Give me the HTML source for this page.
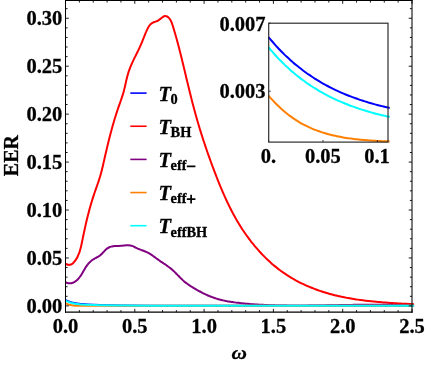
<!DOCTYPE html>
<html><head><meta charset="utf-8"><title>EER plot</title>
<style>
html,body{margin:0;padding:0;background:#fff;}
body{width:426px;height:365px;overflow:hidden;}
svg{display:block;font-family:"Liberation Serif",serif;font-weight:bold;fill:#000;}
.c{fill:none;stroke-width:2;stroke-linejoin:round;stroke-linecap:butt;}
</style></head><body>
<svg width="426" height="365" viewBox="0 0 426 365">
<rect width="426" height="365" fill="#fff"/>
<defs><clipPath id="mc"><rect x="65.50" y="0.50" width="348.6" height="311.70"/></clipPath></defs>
<g clip-path="url(#mc)">
<path class="c" stroke="#0000ff" d="M65.48 299.97 C65.55 300.00 65.75 300.11 65.88 300.18 C66.01 300.25 66.14 300.31 66.27 300.38 C66.41 300.45 66.54 300.51 66.67 300.57 C66.80 300.63 66.93 300.70 67.07 300.76 C67.20 300.82 67.33 300.87 67.46 300.93 C67.59 300.99 67.73 301.04 67.86 301.10 C67.99 301.15 68.12 301.21 68.25 301.26 C68.39 301.31 68.52 301.36 68.65 301.41 C68.78 301.46 68.92 301.51 69.05 301.56 C69.18 301.61 69.31 301.66 69.44 301.70 C69.58 301.75 69.71 301.79 69.84 301.84 C69.97 301.88 70.10 301.93 70.24 301.97 C70.37 302.01 70.50 302.05 70.63 302.09 C70.76 302.13 70.90 302.17 71.03 302.21 C71.16 302.25 71.29 302.29 71.42 302.32 C71.56 302.36 71.69 302.40 71.82 302.43 C71.95 302.47 72.09 302.50 72.22 302.54 C72.35 302.57 72.48 302.60 72.61 302.64 C72.75 302.67 72.88 302.70 73.01 302.73 C73.14 302.76 73.27 302.79 73.41 302.82 C73.54 302.85 73.67 302.88 73.80 302.91 C73.93 302.94 74.07 302.97 74.20 302.99 C74.33 303.02 74.46 303.05 74.59 303.07 C74.73 303.10 74.86 303.12 74.99 303.15 C75.12 303.17 75.26 303.20 75.39 303.22 C75.52 303.25 75.65 303.27 75.78 303.29 C75.92 303.31 76.05 303.34 76.18 303.36 C76.31 303.38 76.44 303.40 76.58 303.42 C76.71 303.44 76.84 303.46 76.97 303.48 C77.10 303.50 77.24 303.52 77.37 303.54 C77.50 303.56 77.63 303.58 77.76 303.60 C77.90 303.62 78.03 303.64 78.16 303.65 C78.29 303.67 78.43 303.69 78.56 303.70 C78.69 303.72 78.82 303.74 78.95 303.75 C79.09 303.77 79.22 303.79 79.35 303.80 C79.48 303.82 79.61 303.83 79.75 303.85 C79.88 303.86 80.01 303.88 80.14 303.89 C80.27 303.90 80.41 303.92 80.54 303.93 C80.67 303.94 79.75 303.88 80.93 303.97 C82.12 304.06 84.47 304.30 87.68 304.46 C90.88 304.62 94.61 304.78 100.15 304.94 C105.69 305.10 112.86 305.30 120.94 305.42 C129.03 305.54 134.80 305.61 148.66 305.66 C162.52 305.71 159.79 305.70 204.10 305.71 C248.41 305.72 379.43 305.71 414.50 305.71"/>
<path class="c" stroke="#ff0000" d="M65.43 263.75 C65.91 263.94 67.43 264.72 68.33 264.85 C69.23 264.99 70.07 264.82 70.85 264.55 C71.62 264.28 72.34 263.77 73.00 263.21 C73.67 262.65 74.28 261.92 74.84 261.20 C75.41 260.48 75.92 259.67 76.39 258.89 C76.87 258.10 77.30 257.29 77.69 256.47 C78.09 255.66 78.45 254.82 78.78 253.99 C79.11 253.15 79.41 252.29 79.69 251.44 C79.97 250.58 80.21 249.71 80.45 248.84 C80.69 247.97 80.90 247.09 81.11 246.21 C81.31 245.32 81.50 244.44 81.69 243.55 C81.88 242.66 82.05 241.77 82.24 240.88 C82.42 239.99 82.60 239.10 82.78 238.20 C82.96 237.31 83.15 236.42 83.33 235.54 C83.52 234.65 83.70 233.76 83.89 232.87 C84.08 231.98 84.27 231.09 84.46 230.21 C84.66 229.32 84.85 228.43 85.05 227.55 C85.24 226.66 85.44 225.78 85.64 224.89 C85.84 224.01 86.05 223.12 86.25 222.24 C86.46 221.36 86.67 220.48 86.88 219.60 C87.09 218.72 87.31 217.84 87.52 216.96 C87.74 216.08 87.96 215.20 88.19 214.32 C88.41 213.44 88.64 212.57 88.87 211.69 C89.10 210.82 89.34 209.94 89.57 209.07 C89.81 208.20 90.06 207.33 90.30 206.46 C90.55 205.58 90.80 204.72 91.05 203.85 C91.31 202.98 91.57 202.11 91.83 201.25 C92.10 200.38 92.36 199.52 92.64 198.65 C92.91 197.79 93.19 196.93 93.47 196.07 C93.75 195.21 94.04 194.35 94.33 193.49 C94.62 192.64 94.92 191.78 95.22 190.92 C95.52 190.07 95.82 189.21 96.12 188.36 C96.42 187.50 96.72 186.65 97.02 185.79 C97.32 184.94 97.61 184.08 97.91 183.22 C98.20 182.37 98.49 181.51 98.77 180.65 C99.06 179.79 99.34 178.93 99.61 178.06 C99.88 177.20 100.14 176.34 100.39 175.47 C100.65 174.60 100.89 173.73 101.13 172.85 C101.37 171.98 101.59 171.10 101.81 170.23 C102.04 169.35 102.25 168.47 102.46 167.59 C102.67 166.71 102.88 165.82 103.08 164.94 C103.28 164.06 103.48 163.17 103.68 162.29 C103.88 161.40 104.08 160.52 104.28 159.63 C104.48 158.75 104.68 157.86 104.88 156.98 C105.08 156.09 105.28 155.21 105.49 154.33 C105.69 153.44 105.90 152.56 106.10 151.68 C106.31 150.79 106.51 149.91 106.72 149.03 C106.93 148.14 107.14 147.26 107.35 146.38 C107.56 145.50 107.77 144.62 107.99 143.74 C108.20 142.85 108.42 141.97 108.64 141.09 C108.85 140.21 109.07 139.33 109.30 138.46 C109.52 137.58 109.74 136.70 109.97 135.82 C110.20 134.94 110.42 134.07 110.66 133.19 C110.89 132.32 111.12 131.44 111.36 130.57 C111.59 129.69 111.83 128.82 112.07 127.95 C112.31 127.07 112.56 126.20 112.81 125.33 C113.05 124.46 113.30 123.59 113.56 122.72 C113.81 121.85 114.07 120.98 114.33 120.11 C114.58 119.25 114.85 118.38 115.11 117.52 C115.38 116.65 115.65 115.79 115.92 114.93 C116.20 114.06 116.47 113.20 116.76 112.34 C117.04 111.48 117.32 110.62 117.61 109.76 C117.90 108.91 118.19 108.05 118.49 107.19 C118.78 106.34 119.09 105.49 119.39 104.63 C119.69 103.78 120.00 102.93 120.30 102.07 C120.60 101.22 120.90 100.36 121.20 99.51 C121.49 98.65 121.79 97.80 122.07 96.93 C122.35 96.07 122.63 95.21 122.89 94.34 C123.15 93.48 123.41 92.61 123.65 91.73 C123.89 90.86 124.11 89.98 124.33 89.09 C124.55 88.21 124.75 87.32 124.96 86.44 C125.16 85.55 125.36 84.66 125.56 83.77 C125.76 82.88 125.95 81.99 126.16 81.10 C126.36 80.22 126.56 79.33 126.77 78.45 C126.99 77.56 127.21 76.68 127.44 75.81 C127.68 74.93 127.92 74.06 128.18 73.19 C128.44 72.33 128.72 71.47 129.02 70.61 C129.31 69.76 129.63 68.92 129.96 68.07 C130.28 67.23 130.63 66.40 130.98 65.56 C131.34 64.73 131.70 63.90 132.08 63.08 C132.45 62.25 132.84 61.43 133.23 60.61 C133.62 59.79 134.02 58.98 134.41 58.16 C134.81 57.35 135.22 56.54 135.63 55.72 C136.03 54.91 136.44 54.10 136.84 53.28 C137.25 52.47 137.65 51.66 138.05 50.84 C138.45 50.03 138.84 49.21 139.23 48.39 C139.62 47.57 140.00 46.75 140.37 45.93 C140.74 45.10 141.10 44.27 141.45 43.44 C141.80 42.61 142.13 41.77 142.47 40.94 C142.80 40.10 143.13 39.26 143.46 38.42 C143.79 37.58 144.11 36.73 144.45 35.89 C144.79 35.05 145.12 34.21 145.48 33.38 C145.83 32.54 146.19 31.70 146.58 30.87 C146.96 30.04 147.35 29.20 147.78 28.39 C148.20 27.58 148.63 26.74 149.14 26.00 C149.64 25.26 150.17 24.53 150.81 23.96 C151.44 23.39 152.17 22.97 152.94 22.58 C153.71 22.19 154.59 21.96 155.44 21.63 C156.28 21.29 157.19 21.02 158.03 20.56 C158.86 20.10 159.68 19.48 160.46 18.89 C161.24 18.30 161.97 17.52 162.71 17.05 C163.45 16.57 164.18 16.12 164.91 16.03 C165.65 15.94 166.42 16.18 167.12 16.52 C167.81 16.87 168.49 17.48 169.07 18.10 C169.64 18.71 170.12 19.45 170.56 20.21 C171.00 20.97 171.35 21.81 171.69 22.66 C172.03 23.50 172.31 24.40 172.60 25.28 C172.89 26.17 173.16 27.07 173.43 27.96 C173.71 28.84 173.98 29.73 174.24 30.62 C174.51 31.50 174.77 32.39 175.03 33.27 C175.28 34.16 175.54 35.04 175.79 35.92 C176.04 36.80 176.29 37.68 176.53 38.56 C176.78 39.44 177.02 40.32 177.26 41.20 C177.49 42.07 177.73 42.95 177.96 43.83 C178.20 44.70 178.43 45.58 178.66 46.45 C178.88 47.33 179.11 48.20 179.34 49.08 C179.56 49.95 179.78 50.83 180.00 51.70 C180.22 52.57 180.44 53.45 180.66 54.32 C180.88 55.19 181.09 56.07 181.31 56.94 C181.52 57.82 181.74 58.69 181.95 59.56 C182.16 60.44 182.37 61.31 182.59 62.19 C182.80 63.06 183.01 63.94 183.22 64.81 C183.43 65.69 183.64 66.56 183.85 67.44 C184.06 68.32 184.27 69.20 184.48 70.07 C184.69 70.95 184.90 71.83 185.11 72.71 C185.32 73.59 185.53 74.47 185.74 75.35 C185.95 76.23 186.16 77.11 186.37 77.99 C186.58 78.87 186.79 79.75 187.00 80.63 C187.21 81.51 187.42 82.39 187.64 83.27 C187.85 84.15 188.06 85.03 188.27 85.91 C188.49 86.79 188.70 87.67 188.92 88.56 C189.13 89.44 189.35 90.32 189.57 91.20 C189.78 92.08 190.00 92.96 190.22 93.84 C190.44 94.72 190.66 95.60 190.88 96.49 C191.10 97.37 191.32 98.25 191.54 99.13 C191.77 100.01 191.99 100.89 192.22 101.77 C192.44 102.65 192.67 103.52 192.90 104.40 C193.13 105.28 193.36 106.16 193.59 107.04 C193.83 107.92 194.06 108.79 194.30 109.67 C194.53 110.55 194.77 111.42 195.01 112.30 C195.25 113.17 195.49 114.05 195.73 114.92 C195.98 115.80 196.22 116.67 196.47 117.54 C196.72 118.42 196.97 119.29 197.22 120.16 C197.47 121.03 197.72 121.90 197.98 122.77 C198.23 123.64 198.49 124.51 198.75 125.38 C199.01 126.25 199.27 127.12 199.53 127.99 C199.80 128.85 200.06 129.72 200.33 130.59 C200.60 131.45 200.87 132.32 201.14 133.18 C201.41 134.05 201.68 134.91 201.96 135.77 C202.23 136.64 202.51 137.50 202.79 138.36 C203.07 139.23 203.35 140.09 203.63 140.95 C203.91 141.81 204.20 142.67 204.48 143.53 C204.77 144.39 205.06 145.25 205.34 146.11 C205.63 146.96 205.93 147.82 206.22 148.68 C206.51 149.54 206.81 150.39 207.10 151.25 C207.40 152.10 207.70 152.96 208.00 153.81 C208.30 154.67 208.60 155.52 208.90 156.38 C209.21 157.23 209.51 158.08 209.82 158.93 C210.13 159.79 210.44 160.64 210.75 161.49 C211.06 162.34 211.37 163.19 211.68 164.04 C211.99 164.89 212.31 165.74 212.63 166.59 C212.94 167.44 213.26 168.28 213.58 169.13 C213.90 169.98 214.22 170.83 214.55 171.67 C214.87 172.52 215.19 173.37 215.52 174.21 C215.85 175.06 216.17 175.90 216.50 176.74 C216.83 177.59 217.17 178.43 217.50 179.27 C217.83 180.12 218.17 180.96 218.51 181.80 C218.84 182.64 219.18 183.48 219.52 184.32 C219.87 185.16 220.21 186.00 220.56 186.83 C220.91 187.67 221.26 188.50 221.61 189.34 C221.96 190.17 222.32 191.01 222.67 191.84 C223.03 192.67 223.39 193.50 223.76 194.33 C224.12 195.16 224.49 195.98 224.86 196.81 C225.23 197.63 225.60 198.46 225.98 199.28 C226.36 200.10 226.74 200.92 227.13 201.74 C227.51 202.56 227.90 203.38 228.29 204.19 C228.69 205.01 229.08 205.82 229.48 206.63 C229.88 207.44 230.29 208.25 230.70 209.06 C231.11 209.86 231.52 210.67 231.94 211.47 C232.36 212.27 232.78 213.07 233.21 213.87 C233.64 214.67 234.07 215.46 234.51 216.26 C234.94 217.05 235.39 217.84 235.83 218.62 C236.28 219.41 236.73 220.20 237.19 220.98 C237.65 221.76 238.11 222.54 238.58 223.32 C239.05 224.09 239.53 224.87 240.01 225.64 C240.49 226.41 240.97 227.17 241.46 227.94 C241.95 228.70 242.45 229.46 242.95 230.22 C243.46 230.98 243.96 231.73 244.48 232.48 C244.99 233.23 245.51 233.98 246.03 234.72 C246.56 235.46 247.09 236.20 247.63 236.94 C248.16 237.67 248.70 238.40 249.25 239.13 C249.80 239.86 250.35 240.58 250.91 241.30 C251.46 242.02 252.03 242.73 252.60 243.44 C253.17 244.15 253.74 244.85 254.32 245.55 C254.90 246.25 255.49 246.95 256.08 247.64 C256.67 248.33 257.26 249.01 257.87 249.69 C258.47 250.37 259.08 251.05 259.69 251.72 C260.30 252.39 260.92 253.05 261.54 253.71 C262.17 254.37 262.80 255.02 263.43 255.67 C264.07 256.31 264.71 256.95 265.35 257.59 C266.00 258.23 266.65 258.85 267.31 259.48 C267.96 260.10 268.63 260.72 269.29 261.33 C269.96 261.94 270.63 262.54 271.31 263.14 C271.99 263.74 272.67 264.33 273.36 264.92 C274.05 265.50 274.75 266.08 275.45 266.65 C276.15 267.22 276.85 267.79 277.57 268.34 C278.28 268.90 278.99 269.45 279.72 269.99 C280.44 270.53 281.16 271.07 281.90 271.60 C282.63 272.13 283.37 272.65 284.11 273.16 C284.86 273.67 285.60 274.18 286.36 274.67 C287.11 275.17 287.87 275.66 288.64 276.14 C289.40 276.62 290.17 277.10 290.95 277.56 C291.72 278.03 292.50 278.48 293.29 278.94 C294.07 279.39 294.86 279.83 295.66 280.26 C296.45 280.70 297.25 281.12 298.05 281.54 C298.85 281.96 299.66 282.38 300.47 282.78 C301.28 283.19 302.10 283.58 302.92 283.97 C303.74 284.36 304.56 284.75 305.38 285.12 C306.21 285.50 307.04 285.86 307.87 286.22 C308.71 286.58 309.54 286.94 310.38 287.28 C311.22 287.63 312.06 287.97 312.91 288.30 C313.76 288.63 314.60 288.96 315.46 289.27 C316.31 289.59 317.16 289.90 318.02 290.21 C318.87 290.51 319.73 290.81 320.59 291.10 C321.45 291.39 322.31 291.67 323.18 291.95 C324.04 292.22 324.91 292.49 325.78 292.75 C326.65 293.02 327.52 293.27 328.39 293.52 C329.26 293.77 330.13 294.01 331.01 294.25 C331.88 294.49 332.76 294.72 333.64 294.94 C334.51 295.16 335.39 295.38 336.27 295.59 C337.15 295.80 338.03 296.01 338.92 296.21 C339.80 296.41 340.68 296.60 341.57 296.79 C342.45 296.98 343.34 297.16 344.22 297.34 C345.11 297.52 346.00 297.69 346.89 297.86 C347.78 298.02 348.67 298.18 349.56 298.34 C350.45 298.50 351.34 298.65 352.23 298.80 C353.13 298.95 354.02 299.09 354.92 299.23 C355.81 299.37 356.71 299.50 357.60 299.63 C358.50 299.76 359.40 299.89 360.29 300.01 C361.19 300.13 362.09 300.25 362.99 300.36 C363.89 300.48 364.79 300.59 365.69 300.69 C366.59 300.80 367.49 300.90 368.39 301.00 C369.29 301.10 370.19 301.20 371.10 301.29 C372.00 301.39 372.90 301.48 373.80 301.57 C374.71 301.65 375.61 301.74 376.51 301.82 C377.42 301.90 378.32 301.98 379.23 302.06 C380.13 302.14 381.03 302.21 381.94 302.28 C382.84 302.36 383.75 302.43 384.65 302.50 C385.56 302.56 386.46 302.63 387.37 302.70 C388.27 302.76 389.18 302.82 390.08 302.88 C390.99 302.95 391.89 303.01 392.80 303.06 C393.70 303.12 394.61 303.18 395.51 303.24 C396.42 303.29 397.32 303.35 398.23 303.40 C399.13 303.46 400.04 303.51 400.94 303.56 C401.84 303.62 402.75 303.67 403.65 303.72 C404.55 303.77 405.46 303.82 406.36 303.87 C407.26 303.92 408.16 303.98 409.07 304.03 C409.97 304.08 410.87 304.13 411.77 304.18 C412.67 304.23 414.02 304.31 414.47 304.33"/>
<path class="c" stroke="#800080" d="M65.49 282.07 C65.81 282.21 66.76 282.75 67.39 282.95 C68.03 283.16 68.66 283.27 69.28 283.31 C69.91 283.35 70.53 283.30 71.13 283.19 C71.74 283.09 72.34 282.91 72.92 282.69 C73.51 282.46 74.08 282.17 74.63 281.85 C75.17 281.53 75.71 281.15 76.21 280.75 C76.72 280.36 77.21 279.92 77.66 279.47 C78.12 279.02 78.55 278.54 78.97 278.05 C79.38 277.56 79.77 277.05 80.14 276.53 C80.52 276.01 80.87 275.48 81.22 274.93 C81.57 274.39 81.90 273.84 82.23 273.28 C82.56 272.72 82.88 272.16 83.20 271.59 C83.52 271.03 83.83 270.46 84.15 269.90 C84.47 269.34 84.79 268.78 85.12 268.23 C85.45 267.67 85.78 267.13 86.13 266.59 C86.48 266.06 86.84 265.53 87.22 265.03 C87.60 264.52 87.99 264.02 88.40 263.55 C88.82 263.07 89.26 262.62 89.71 262.18 C90.17 261.75 90.65 261.33 91.14 260.93 C91.64 260.53 92.15 260.16 92.67 259.80 C93.20 259.44 93.74 259.10 94.29 258.77 C94.84 258.45 95.41 258.16 95.97 257.86 C96.54 257.56 97.12 257.30 97.68 256.99 C98.23 256.68 98.79 256.38 99.30 256.02 C99.82 255.66 100.31 255.25 100.79 254.82 C101.26 254.40 101.71 253.94 102.16 253.47 C102.61 253.01 103.04 252.52 103.49 252.04 C103.93 251.57 104.36 251.08 104.82 250.62 C105.27 250.16 105.72 249.70 106.21 249.29 C106.69 248.87 107.19 248.48 107.72 248.14 C108.25 247.79 108.81 247.49 109.39 247.23 C109.96 246.98 110.57 246.77 111.18 246.60 C111.79 246.43 112.41 246.31 113.04 246.23 C113.67 246.14 114.31 246.10 114.95 246.06 C115.59 246.03 116.23 246.03 116.88 246.01 C117.52 246.00 118.17 246.01 118.82 245.98 C119.46 245.96 120.11 245.93 120.75 245.87 C121.39 245.81 122.02 245.72 122.66 245.64 C123.30 245.56 123.93 245.46 124.57 245.40 C125.20 245.33 125.84 245.27 126.48 245.24 C127.11 245.22 127.75 245.21 128.38 245.24 C129.01 245.28 129.64 245.34 130.25 245.45 C130.87 245.57 131.47 245.72 132.07 245.92 C132.67 246.12 133.25 246.39 133.83 246.66 C134.41 246.93 134.98 247.24 135.55 247.53 C136.13 247.81 136.72 248.09 137.30 248.36 C137.89 248.62 138.48 248.87 139.07 249.11 C139.67 249.36 140.26 249.59 140.86 249.82 C141.45 250.06 142.05 250.28 142.64 250.51 C143.24 250.74 143.83 250.97 144.42 251.21 C145.01 251.44 145.60 251.68 146.18 251.93 C146.76 252.18 147.34 252.44 147.91 252.73 C148.47 253.01 149.03 253.31 149.58 253.63 C150.12 253.95 150.66 254.28 151.19 254.63 C151.73 254.98 152.25 255.34 152.77 255.71 C153.29 256.08 153.81 256.46 154.33 256.84 C154.84 257.22 155.35 257.61 155.87 258.00 C156.38 258.39 156.89 258.78 157.41 259.16 C157.92 259.54 158.44 259.92 158.96 260.29 C159.48 260.66 160.01 261.02 160.53 261.38 C161.06 261.74 161.59 262.09 162.12 262.44 C162.65 262.80 163.18 263.14 163.71 263.49 C164.24 263.85 164.77 264.19 165.29 264.55 C165.82 264.90 166.34 265.25 166.86 265.61 C167.38 265.98 167.90 266.34 168.41 266.71 C168.93 267.09 169.43 267.46 169.93 267.85 C170.43 268.25 170.93 268.64 171.42 269.06 C171.90 269.47 172.38 269.89 172.85 270.32 C173.33 270.76 173.80 271.20 174.26 271.65 C174.72 272.10 175.18 272.55 175.64 273.01 C176.09 273.47 176.55 273.93 177.00 274.40 C177.45 274.86 177.90 275.33 178.36 275.79 C178.81 276.26 179.26 276.72 179.71 277.18 C180.17 277.64 180.62 278.10 181.08 278.55 C181.54 279.00 182.01 279.44 182.48 279.88 C182.95 280.31 183.42 280.74 183.90 281.16 C184.38 281.57 184.87 281.98 185.36 282.37 C185.85 282.77 186.35 283.15 186.86 283.53 C187.36 283.91 187.87 284.28 188.39 284.64 C188.90 285.00 189.43 285.35 189.95 285.70 C190.48 286.05 191.01 286.39 191.54 286.73 C192.08 287.06 192.62 287.39 193.16 287.72 C193.70 288.05 194.25 288.37 194.80 288.69 C195.35 289.01 195.90 289.32 196.46 289.64 C197.02 289.95 197.58 290.27 198.14 290.58 C198.70 290.89 199.27 291.20 199.84 291.50 C200.40 291.81 200.98 292.11 201.55 292.41 C202.12 292.70 202.70 293.00 203.28 293.29 C203.86 293.58 204.44 293.86 205.02 294.14 C205.61 294.42 206.19 294.69 206.78 294.96 C207.37 295.22 207.96 295.48 208.55 295.74 C209.15 295.99 209.74 296.23 210.34 296.47 C210.93 296.71 211.53 296.94 212.13 297.16 C212.74 297.38 213.34 297.59 213.94 297.80 C214.55 298.01 215.15 298.20 215.76 298.40 C216.37 298.59 216.98 298.77 217.59 298.95 C218.20 299.13 218.82 299.30 219.43 299.46 C220.05 299.63 220.66 299.79 221.28 299.94 C221.90 300.09 222.52 300.24 223.14 300.38 C223.76 300.52 224.38 300.66 225.00 300.79 C225.62 300.92 226.25 301.04 226.87 301.16 C227.50 301.28 228.12 301.39 228.75 301.50 C229.38 301.61 230.00 301.72 230.63 301.82 C231.26 301.92 231.89 302.02 232.52 302.11 C233.15 302.21 233.78 302.30 234.42 302.38 C235.05 302.47 235.68 302.55 236.31 302.63 C236.95 302.71 237.58 302.79 238.21 302.86 C238.85 302.94 239.48 303.01 240.12 303.08 C240.75 303.15 241.39 303.21 242.02 303.28 C242.66 303.34 243.29 303.41 243.93 303.47 C244.57 303.53 245.20 303.59 245.84 303.65 C246.47 303.70 247.11 303.76 247.75 303.82 C248.38 303.87 249.02 303.92 249.66 303.98 C250.29 304.03 250.93 304.08 251.57 304.13 C252.20 304.18 252.84 304.23 253.48 304.27 C254.11 304.32 254.75 304.36 255.39 304.41 C256.02 304.45 256.66 304.49 257.30 304.54 C257.94 304.58 258.57 304.62 259.21 304.65 C259.85 304.69 260.48 304.73 261.12 304.77 C261.76 304.80 262.40 304.84 263.04 304.87 C263.67 304.90 264.31 304.94 264.95 304.97 C265.59 305.00 266.22 305.03 266.86 305.06 C267.50 305.09 268.14 305.11 268.78 305.14 C269.42 305.17 270.05 305.19 270.69 305.22 C271.33 305.24 271.97 305.26 272.61 305.29 C273.25 305.31 273.88 305.33 274.52 305.35 C275.16 305.37 275.80 305.39 276.44 305.41 C277.08 305.42 277.72 305.44 278.36 305.46 C278.99 305.47 279.63 305.49 280.27 305.50 C280.91 305.52 281.55 305.53 282.19 305.54 C282.83 305.56 283.47 305.57 284.11 305.58 C284.75 305.59 285.39 305.60 286.02 305.61 C286.66 305.62 287.30 305.62 287.94 305.63 C288.58 305.64 289.22 305.65 289.86 305.65 C290.50 305.66 291.14 305.66 291.78 305.67 C292.42 305.67 293.06 305.67 293.70 305.68 C294.34 305.68 294.98 305.68 295.62 305.68 C296.26 305.68 296.90 305.69 297.54 305.69 C298.18 305.69 298.82 305.68 299.46 305.68 C300.10 305.68 300.74 305.68 301.38 305.68 C302.02 305.68 302.66 305.67 303.30 305.67 C303.94 305.67 304.58 305.66 305.22 305.66 C305.86 305.65 306.50 305.65 307.14 305.64 C307.78 305.64 308.42 305.63 309.06 305.62 C309.70 305.62 310.34 305.61 310.98 305.60 C311.62 305.60 312.26 305.59 312.90 305.58 C313.54 305.57 314.18 305.56 314.82 305.56 C315.46 305.55 316.10 305.54 316.74 305.53 C317.38 305.52 318.02 305.51 318.66 305.50 C319.30 305.49 319.94 305.48 320.59 305.47 C321.23 305.46 321.87 305.45 322.51 305.43 C323.15 305.42 323.79 305.41 324.43 305.40 C325.07 305.39 325.71 305.38 326.35 305.37 C326.99 305.35 327.63 305.34 328.27 305.33 C328.91 305.32 329.55 305.30 330.19 305.29 C330.83 305.28 331.47 305.27 332.11 305.25 C332.75 305.24 333.39 305.23 334.03 305.22 C334.68 305.20 335.32 305.19 335.96 305.18 C336.60 305.17 337.24 305.15 337.88 305.14 C338.52 305.13 339.16 305.11 339.80 305.10 C340.44 305.09 341.08 305.08 341.72 305.06 C342.36 305.05 343.00 305.04 343.64 305.03 C344.28 305.02 344.92 305.00 345.56 304.99 C346.20 304.98 346.84 304.97 347.48 304.96 C348.12 304.94 348.76 304.93 349.40 304.92 C350.04 304.91 350.68 304.90 351.32 304.89 C351.96 304.88 352.60 304.87 353.24 304.86 C353.88 304.85 354.52 304.84 355.16 304.83 C355.80 304.82 356.44 304.81 357.08 304.80 C357.72 304.79 358.36 304.78 359.00 304.78 C359.64 304.77 360.28 304.76 360.92 304.75 C361.56 304.74 362.20 304.74 362.84 304.73 C363.48 304.72 364.12 304.72 364.76 304.71 C365.40 304.71 366.04 304.70 366.68 304.70 C367.32 304.69 367.96 304.69 368.59 304.69 C369.23 304.68 369.87 304.68 370.51 304.68 C371.15 304.67 371.79 304.67 372.43 304.67 C373.07 304.67 373.71 304.67 374.35 304.67 C374.99 304.67 375.62 304.67 376.26 304.67 C376.90 304.67 377.54 304.68 378.18 304.68 C378.82 304.68 379.46 304.68 380.10 304.69 C380.73 304.69 381.37 304.70 382.01 304.70 C382.65 304.71 383.29 304.72 383.93 304.72 C384.56 304.73 385.20 304.74 385.84 304.75 C386.48 304.76 387.12 304.76 387.76 304.78 C388.39 304.79 389.03 304.80 389.67 304.81 C390.31 304.82 390.94 304.84 391.58 304.85 C392.22 304.86 392.86 304.88 393.50 304.89 C394.13 304.91 394.77 304.93 395.41 304.95 C396.04 304.96 396.68 304.98 397.32 305.00 C397.96 305.02 398.59 305.04 399.23 305.07 C399.87 305.09 400.50 305.11 401.14 305.14 C401.78 305.16 402.41 305.18 403.05 305.21 C403.69 305.24 404.32 305.26 404.96 305.29 C405.60 305.32 406.23 305.35 406.87 305.38 C407.51 305.41 408.14 305.45 408.78 305.48 C409.41 305.51 410.05 305.55 410.69 305.58 C411.32 305.62 411.96 305.66 412.59 305.69 C413.23 305.73 414.18 305.79 414.50 305.81"/>
<path class="c" stroke="#ff8000" d="M65.48 303.27 C65.55 303.31 65.75 303.41 65.88 303.47 C66.01 303.54 66.14 303.60 66.27 303.66 C66.41 303.72 66.54 303.78 66.67 303.84 C66.80 303.89 66.93 303.95 67.07 304.00 C67.20 304.05 67.33 304.10 67.46 304.15 C67.59 304.20 67.73 304.25 67.86 304.30 C67.99 304.34 68.12 304.39 68.25 304.43 C68.39 304.47 68.52 304.51 68.65 304.55 C68.78 304.59 68.92 304.63 69.05 304.67 C69.18 304.71 69.31 304.74 69.44 304.78 C69.58 304.81 69.71 304.84 69.84 304.88 C69.97 304.91 70.10 304.94 70.24 304.97 C70.37 305.00 70.50 305.03 70.63 305.05 C70.76 305.08 70.90 305.11 71.03 305.13 C71.16 305.16 71.29 305.18 71.42 305.20 C71.56 305.23 71.69 305.25 71.82 305.27 C71.95 305.29 72.09 305.31 72.22 305.33 C72.35 305.35 72.48 305.37 72.61 305.38 C72.75 305.40 72.88 305.42 73.01 305.44 C73.14 305.45 73.27 305.47 73.41 305.48 C73.54 305.50 73.67 305.51 73.80 305.52 C73.93 305.54 74.07 305.55 74.20 305.56 C74.33 305.57 74.46 305.59 74.59 305.60 C74.73 305.61 74.86 305.62 74.99 305.63 C75.12 305.64 75.26 305.65 75.39 305.66 C75.52 305.67 75.65 305.68 75.78 305.68 C75.92 305.69 76.05 305.70 76.18 305.71 C76.31 305.71 76.44 305.72 76.58 305.73 C76.71 305.74 76.84 305.74 76.97 305.75 C77.10 305.75 77.24 305.76 77.37 305.76 C77.50 305.77 77.63 305.78 77.76 305.78 C77.90 305.79 78.03 305.79 78.16 305.79 C78.29 305.80 78.43 305.80 78.56 305.81 C78.69 305.81 78.82 305.81 78.95 305.82 C79.09 305.82 79.22 305.82 79.35 305.83 C79.48 305.83 79.61 305.83 79.75 305.84 C79.88 305.84 80.01 305.84 80.14 305.84 C80.27 305.85 80.41 305.85 80.54 305.85 C80.67 305.85 78.82 305.86 80.93 305.86 C83.05 305.85 86.55 305.83 93.22 305.80 C99.89 305.78 102.46 305.72 120.94 305.71 C139.42 305.69 155.17 305.71 204.10 305.71 C253.03 305.71 379.43 305.71 414.50 305.71"/>
<path class="c" stroke="#00ffff" d="M65.48 300.55 C65.55 300.58 65.75 300.69 65.88 300.75 C66.01 300.82 66.14 300.89 66.27 300.95 C66.41 301.02 66.54 301.08 66.67 301.14 C66.80 301.20 66.93 301.26 67.07 301.32 C67.20 301.38 67.33 301.44 67.46 301.50 C67.59 301.55 67.73 301.61 67.86 301.66 C67.99 301.72 68.12 301.77 68.25 301.82 C68.39 301.87 68.52 301.92 68.65 301.97 C68.78 302.02 68.92 302.07 69.05 302.12 C69.18 302.17 69.31 302.21 69.44 302.26 C69.58 302.30 69.71 302.35 69.84 302.39 C69.97 302.44 70.10 302.48 70.24 302.52 C70.37 302.56 70.50 302.60 70.63 302.64 C70.76 302.68 70.90 302.72 71.03 302.76 C71.16 302.80 71.29 302.83 71.42 302.87 C71.56 302.90 71.69 302.94 71.82 302.98 C71.95 303.01 72.09 303.04 72.22 303.08 C72.35 303.11 72.48 303.14 72.61 303.17 C72.75 303.21 72.88 303.24 73.01 303.27 C73.14 303.30 73.27 303.33 73.41 303.36 C73.54 303.39 73.67 303.41 73.80 303.44 C73.93 303.47 74.07 303.50 74.20 303.52 C74.33 303.55 74.46 303.58 74.59 303.60 C74.73 303.63 74.86 303.65 74.99 303.68 C75.12 303.70 75.26 303.72 75.39 303.75 C75.52 303.77 75.65 303.79 75.78 303.82 C75.92 303.84 76.05 303.86 76.18 303.88 C76.31 303.90 76.44 303.92 76.58 303.94 C76.71 303.96 76.84 303.98 76.97 304.00 C77.10 304.02 77.24 304.04 77.37 304.06 C77.50 304.08 77.63 304.10 77.76 304.12 C77.90 304.13 78.03 304.15 78.16 304.17 C78.29 304.19 78.43 304.20 78.56 304.22 C78.69 304.23 78.82 304.25 78.95 304.27 C79.09 304.28 79.22 304.30 79.35 304.31 C79.48 304.33 79.61 304.34 79.75 304.36 C79.88 304.37 80.01 304.38 80.14 304.40 C80.27 304.41 80.41 304.42 80.54 304.44 C80.67 304.45 79.75 304.41 80.93 304.48 C82.12 304.54 84.47 304.74 87.68 304.85 C90.88 304.95 94.61 305.02 100.15 305.13 C105.69 305.24 112.86 305.43 120.94 305.52 C129.03 305.60 134.80 305.63 148.66 305.66 C162.52 305.69 159.79 305.70 204.10 305.71 C248.41 305.72 379.43 305.71 414.50 305.71"/>
</g>
<path d="M65.50 312.20 L65.50 308.90 M65.50 0.50 L65.50 3.80 M79.36 312.20 L79.36 310.10 M79.36 0.50 L79.36 2.60 M93.22 312.20 L93.22 310.10 M93.22 0.50 L93.22 2.60 M107.08 312.20 L107.08 310.10 M107.08 0.50 L107.08 2.60 M120.94 312.20 L120.94 310.10 M120.94 0.50 L120.94 2.60 M134.80 312.20 L134.80 308.90 M134.80 0.50 L134.80 3.80 M148.66 312.20 L148.66 310.10 M148.66 0.50 L148.66 2.60 M162.52 312.20 L162.52 310.10 M162.52 0.50 L162.52 2.60 M176.38 312.20 L176.38 310.10 M176.38 0.50 L176.38 2.60 M190.24 312.20 L190.24 310.10 M190.24 0.50 L190.24 2.60 M204.10 312.20 L204.10 308.90 M204.10 0.50 L204.10 3.80 M217.96 312.20 L217.96 310.10 M217.96 0.50 L217.96 2.60 M231.82 312.20 L231.82 310.10 M231.82 0.50 L231.82 2.60 M245.68 312.20 L245.68 310.10 M245.68 0.50 L245.68 2.60 M259.54 312.20 L259.54 310.10 M259.54 0.50 L259.54 2.60 M273.40 312.20 L273.40 308.90 M273.40 0.50 L273.40 3.80 M287.26 312.20 L287.26 310.10 M287.26 0.50 L287.26 2.60 M301.12 312.20 L301.12 310.10 M301.12 0.50 L301.12 2.60 M314.98 312.20 L314.98 310.10 M314.98 0.50 L314.98 2.60 M328.84 312.20 L328.84 310.10 M328.84 0.50 L328.84 2.60 M342.70 312.20 L342.70 308.90 M342.70 0.50 L342.70 3.80 M356.56 312.20 L356.56 310.10 M356.56 0.50 L356.56 2.60 M370.42 312.20 L370.42 310.10 M370.42 0.50 L370.42 2.60 M384.28 312.20 L384.28 310.10 M384.28 0.50 L384.28 2.60 M398.14 312.20 L398.14 310.10 M398.14 0.50 L398.14 2.60 M412.00 312.20 L412.00 308.90 M412.00 0.50 L412.00 3.80 M65.50 305.90 L68.80 305.90 M412.00 305.90 L408.70 305.90 M65.50 296.31 L67.60 296.31 M412.00 296.31 L409.90 296.31 M65.50 286.72 L67.60 286.72 M412.00 286.72 L409.90 286.72 M65.50 277.14 L67.60 277.14 M412.00 277.14 L409.90 277.14 M65.50 267.55 L67.60 267.55 M412.00 267.55 L409.90 267.55 M65.50 257.96 L68.80 257.96 M412.00 257.96 L408.70 257.96 M65.50 248.37 L67.60 248.37 M412.00 248.37 L409.90 248.37 M65.50 238.78 L67.60 238.78 M412.00 238.78 L409.90 238.78 M65.50 229.20 L67.60 229.20 M412.00 229.20 L409.90 229.20 M65.50 219.61 L67.60 219.61 M412.00 219.61 L409.90 219.61 M65.50 210.02 L68.80 210.02 M412.00 210.02 L408.70 210.02 M65.50 200.43 L67.60 200.43 M412.00 200.43 L409.90 200.43 M65.50 190.84 L67.60 190.84 M412.00 190.84 L409.90 190.84 M65.50 181.26 L67.60 181.26 M412.00 181.26 L409.90 181.26 M65.50 171.67 L67.60 171.67 M412.00 171.67 L409.90 171.67 M65.50 162.08 L68.80 162.08 M412.00 162.08 L408.70 162.08 M65.50 152.49 L67.60 152.49 M412.00 152.49 L409.90 152.49 M65.50 142.90 L67.60 142.90 M412.00 142.90 L409.90 142.90 M65.50 133.32 L67.60 133.32 M412.00 133.32 L409.90 133.32 M65.50 123.73 L67.60 123.73 M412.00 123.73 L409.90 123.73 M65.50 114.14 L68.80 114.14 M412.00 114.14 L408.70 114.14 M65.50 104.55 L67.60 104.55 M412.00 104.55 L409.90 104.55 M65.50 94.96 L67.60 94.96 M412.00 94.96 L409.90 94.96 M65.50 85.38 L67.60 85.38 M412.00 85.38 L409.90 85.38 M65.50 75.79 L67.60 75.79 M412.00 75.79 L409.90 75.79 M65.50 66.20 L68.80 66.20 M412.00 66.20 L408.70 66.20 M65.50 56.61 L67.60 56.61 M412.00 56.61 L409.90 56.61 M65.50 47.02 L67.60 47.02 M412.00 47.02 L409.90 47.02 M65.50 37.44 L67.60 37.44 M412.00 37.44 L409.90 37.44 M65.50 27.85 L67.60 27.85 M412.00 27.85 L409.90 27.85 M65.50 18.26 L68.80 18.26 M412.00 18.26 L408.70 18.26 M65.50 8.67 L67.60 8.67 M412.00 8.67 L409.90 8.67" stroke="#000" stroke-width="0.9" fill="none"/>
<path d="M65.50 0 V312.8 M65 0.50 H412.6" stroke="#000" stroke-width="1" fill="none"/>
<path d="M412.00 0 V312.8" stroke="#000" stroke-width="1.05" fill="none"/>
<path d="M65 312.20 H412.6" stroke="#000" stroke-width="1.2" fill="none"/>
<!-- inset -->
<rect x="268.70" y="23.20" width="119.30" height="118.90" fill="#fff" stroke="none"/>
<path class="c" stroke="#0000ff" d="M268.50 37.06 C269.02 37.68 270.57 39.56 271.61 40.77 C272.64 41.98 273.68 43.17 274.72 44.33 C275.75 45.48 276.79 46.62 277.82 47.73 C278.86 48.84 279.89 49.92 280.93 50.98 C281.97 52.05 283.00 53.08 284.04 54.10 C285.07 55.12 286.11 56.11 287.15 57.08 C288.18 58.06 289.22 59.01 290.25 59.94 C291.29 60.87 292.33 61.78 293.36 62.67 C294.40 63.56 295.43 64.43 296.47 65.29 C297.51 66.14 298.54 66.97 299.58 67.79 C300.61 68.61 301.65 69.40 302.68 70.19 C303.72 70.97 304.76 71.73 305.79 72.48 C306.83 73.23 307.86 73.96 308.90 74.67 C309.94 75.39 310.97 76.09 312.01 76.78 C313.04 77.46 314.08 78.13 315.12 78.79 C316.15 79.44 317.19 80.08 318.22 80.71 C319.26 81.34 320.29 81.95 321.33 82.55 C322.37 83.15 323.40 83.74 324.44 84.32 C325.47 84.89 326.51 85.45 327.55 86.00 C328.58 86.55 329.62 87.09 330.65 87.62 C331.69 88.15 332.73 88.66 333.76 89.17 C334.80 89.67 335.83 90.16 336.87 90.65 C337.91 91.13 338.94 91.60 339.98 92.06 C341.01 92.52 342.05 92.97 343.08 93.42 C344.12 93.86 345.16 94.29 346.19 94.71 C347.23 95.14 348.26 95.55 349.30 95.96 C350.34 96.36 351.37 96.76 352.41 97.14 C353.44 97.53 354.48 97.91 355.52 98.28 C356.55 98.65 357.59 99.02 358.62 99.37 C359.66 99.73 360.69 100.07 361.73 100.41 C362.77 100.75 363.80 101.09 364.84 101.41 C365.87 101.74 366.91 102.05 367.95 102.37 C368.98 102.68 370.02 102.98 371.05 103.28 C372.09 103.58 373.13 103.87 374.16 104.15 C375.20 104.44 376.23 104.72 377.27 104.99 C378.31 105.26 379.34 105.53 380.38 105.79 C381.41 106.05 382.45 106.31 383.48 106.56 C384.52 106.81 385.56 107.05 386.59 107.29 C387.63 107.53 389.18 107.88 389.70 108.00"/>
<path class="c" stroke="#ff8000" d="M268.50 95.66 C269.02 96.24 270.57 98.04 271.61 99.17 C272.64 100.31 273.68 101.41 274.72 102.48 C275.75 103.55 276.79 104.59 277.82 105.59 C278.86 106.59 279.89 107.56 280.93 108.50 C281.97 109.43 283.00 110.34 284.04 111.22 C285.07 112.09 286.11 112.94 287.15 113.76 C288.18 114.58 289.22 115.37 290.25 116.13 C291.29 116.89 292.33 117.62 293.36 118.33 C294.40 119.04 295.43 119.72 296.47 120.38 C297.51 121.04 298.54 121.67 299.58 122.28 C300.61 122.89 301.65 123.48 302.68 124.04 C303.72 124.61 304.76 125.15 305.79 125.67 C306.83 126.19 307.86 126.69 308.90 127.17 C309.94 127.65 310.97 128.11 312.01 128.56 C313.04 129.00 314.08 129.43 315.12 129.83 C316.15 130.24 317.19 130.63 318.22 131.00 C319.26 131.38 320.29 131.74 321.33 132.08 C322.37 132.42 323.40 132.75 324.44 133.06 C325.47 133.38 326.51 133.68 327.55 133.96 C328.58 134.25 329.62 134.52 330.65 134.79 C331.69 135.05 332.73 135.30 333.76 135.53 C334.80 135.77 335.83 136.00 336.87 136.22 C337.91 136.43 338.94 136.64 339.98 136.84 C341.01 137.03 342.05 137.22 343.08 137.40 C344.12 137.58 345.16 137.75 346.19 137.91 C347.23 138.07 348.26 138.22 349.30 138.37 C350.34 138.52 351.37 138.65 352.41 138.79 C353.44 138.92 354.48 139.04 355.52 139.16 C356.55 139.28 357.59 139.39 358.62 139.50 C359.66 139.61 360.69 139.71 361.73 139.80 C362.77 139.90 363.80 139.99 364.84 140.08 C365.87 140.16 366.91 140.24 367.95 140.32 C368.98 140.40 370.02 140.47 371.05 140.54 C372.09 140.61 373.13 140.67 374.16 140.73 C375.20 140.80 376.23 140.85 377.27 140.91 C378.31 140.96 379.34 141.02 380.38 141.06 C381.41 141.11 382.45 141.16 383.48 141.20 C384.52 141.25 385.56 141.29 386.59 141.33 C387.63 141.36 389.18 141.42 389.70 141.43"/>
<path class="c" stroke="#00ffff" d="M268.50 47.27 C269.02 47.88 270.57 49.75 271.61 50.95 C272.64 52.15 273.68 53.32 274.72 54.47 C275.75 55.61 276.79 56.74 277.82 57.83 C278.86 58.93 279.89 60.00 280.93 61.05 C281.97 62.10 283.00 63.13 284.04 64.13 C285.07 65.14 286.11 66.12 287.15 67.08 C288.18 68.04 289.22 68.98 290.25 69.90 C291.29 70.82 292.33 71.71 293.36 72.59 C294.40 73.47 295.43 74.33 296.47 75.17 C297.51 76.01 298.54 76.83 299.58 77.64 C300.61 78.44 301.65 79.23 302.68 80.00 C303.72 80.77 304.76 81.52 305.79 82.25 C306.83 82.99 307.86 83.71 308.90 84.41 C309.94 85.12 310.97 85.80 312.01 86.48 C313.04 87.15 314.08 87.81 315.12 88.45 C316.15 89.09 317.19 89.72 318.22 90.34 C319.26 90.96 320.29 91.56 321.33 92.15 C322.37 92.74 323.40 93.31 324.44 93.88 C325.47 94.44 326.51 94.99 327.55 95.53 C328.58 96.07 329.62 96.59 330.65 97.11 C331.69 97.63 332.73 98.13 333.76 98.62 C334.80 99.12 335.83 99.60 336.87 100.07 C337.91 100.54 338.94 101.00 339.98 101.45 C341.01 101.90 342.05 102.35 343.08 102.78 C344.12 103.21 345.16 103.63 346.19 104.04 C347.23 104.46 348.26 104.86 349.30 105.25 C350.34 105.65 351.37 106.04 352.41 106.41 C353.44 106.79 354.48 107.16 355.52 107.52 C356.55 107.88 357.59 108.24 358.62 108.58 C359.66 108.93 360.69 109.27 361.73 109.60 C362.77 109.93 363.80 110.25 364.84 110.57 C365.87 110.88 366.91 111.19 367.95 111.49 C368.98 111.80 370.02 112.09 371.05 112.38 C372.09 112.67 373.13 112.95 374.16 113.23 C375.20 113.51 376.23 113.78 377.27 114.04 C378.31 114.31 379.34 114.57 380.38 114.82 C381.41 115.07 382.45 115.32 383.48 115.56 C384.52 115.80 385.56 116.04 386.59 116.27 C387.63 116.50 389.18 116.84 389.70 116.95"/>
<path d="M268.65 142.10 L268.65 140.00 M323.00 142.10 L323.00 140.00 M377.35 142.10 L377.35 140.00 M268.70 91.20 L270.80 91.20 M268.70 23.20 L270.80 23.20" stroke="#111" stroke-width="0.8" fill="none"/>
<rect x="268.70" y="23.20" width="119.30" height="118.90" fill="none" stroke="#262626" stroke-width="1.15"/>
<g style="will-change:opacity;opacity:0.999" stroke="#000" stroke-width="0.3">
<path d="M130.3 93.10 H146.6" stroke="#0000ff" stroke-width="1.6" fill="none"/>
<text x="158.6" y="100.70" font-size="20.5" font-style="italic">T<tspan font-size="14.4" font-style="normal" dx="-0.6" dy="3.2">0</tspan></text>
<path d="M130.3 126.25 H146.6" stroke="#ff0000" stroke-width="1.6" fill="none"/>
<text x="158.6" y="133.85" font-size="20.5" font-style="italic">T<tspan font-size="14.4" font-style="normal" dx="-0.6" dy="3.2">BH</tspan></text>
<path d="M130.3 159.40 H146.6" stroke="#800080" stroke-width="1.6" fill="none"/>
<text x="158.6" y="167.00" font-size="20.5" font-style="italic">T<tspan font-size="14.4" font-style="normal" dx="-0.6" dy="3.2">eff</tspan></text>
<path d="M130.3 192.55 H146.6" stroke="#ff8000" stroke-width="1.6" fill="none"/>
<text x="158.6" y="200.15" font-size="20.5" font-style="italic">T<tspan font-size="14.4" font-style="normal" dx="-0.6" dy="3.2">eff</tspan></text>
<path d="M130.3 225.70 H146.6" stroke="#00ffff" stroke-width="1.6" fill="none"/>
<text x="158.6" y="233.30" font-size="20.5" font-style="italic">T<tspan font-size="14.4" font-style="normal" dx="-0.6" dy="3.2">effBH</tspan></text>
<path d="M186.8 166.4 H195.4 M186.8 199.1 H195.4 M191.1 194.8 V203.4" stroke="#000" stroke-width="1.7" fill="none"/>
<text x="65.50" y="333.00" text-anchor="middle" font-size="20.5"  >0.0</text>
<text x="134.80" y="333.00" text-anchor="middle" font-size="20.5"  >0.5</text>
<text x="204.10" y="333.00" text-anchor="middle" font-size="20.5"  >1.0</text>
<text x="273.40" y="333.00" text-anchor="middle" font-size="20.5"  >1.5</text>
<text x="342.70" y="333.00" text-anchor="middle" font-size="20.5"  >2.0</text>
<text x="412.00" y="333.00" text-anchor="middle" font-size="20.5"  >2.5</text>
<text x="62.30" y="312.80" text-anchor="end" font-size="20.5"  >0.00</text>
<text x="62.30" y="264.86" text-anchor="end" font-size="20.5"  >0.05</text>
<text x="62.30" y="216.92" text-anchor="end" font-size="20.5"  >0.10</text>
<text x="62.30" y="168.98" text-anchor="end" font-size="20.5"  >0.15</text>
<text x="62.30" y="121.04" text-anchor="end" font-size="20.5"  >0.20</text>
<text x="62.30" y="73.10" text-anchor="end" font-size="20.5"  >0.25</text>
<text x="62.30" y="25.16" text-anchor="end" font-size="20.5"  >0.30</text>
<text transform="translate(239.1 359.4) scale(1.04 0.9)" text-anchor="middle" font-size="20.5" font-style="italic">ω</text>
<text transform="translate(18.2 155.6) rotate(-90)" text-anchor="middle" font-size="20">EER</text>
<text x="265.50" y="30.60" text-anchor="end" font-size="20.5"  >0.007</text>
<text x="265.50" y="98.30" text-anchor="end" font-size="20.5"  >0.003</text>
<text x="268.40" y="163.10" text-anchor="middle" font-size="20.5"  >0.</text>
<text x="322.90" y="163.10" text-anchor="middle" font-size="20.5"  >0.05</text>
<text x="377.00" y="163.10" text-anchor="middle" font-size="20.5"  >0.1</text>
</g>
</svg>
</body></html>
